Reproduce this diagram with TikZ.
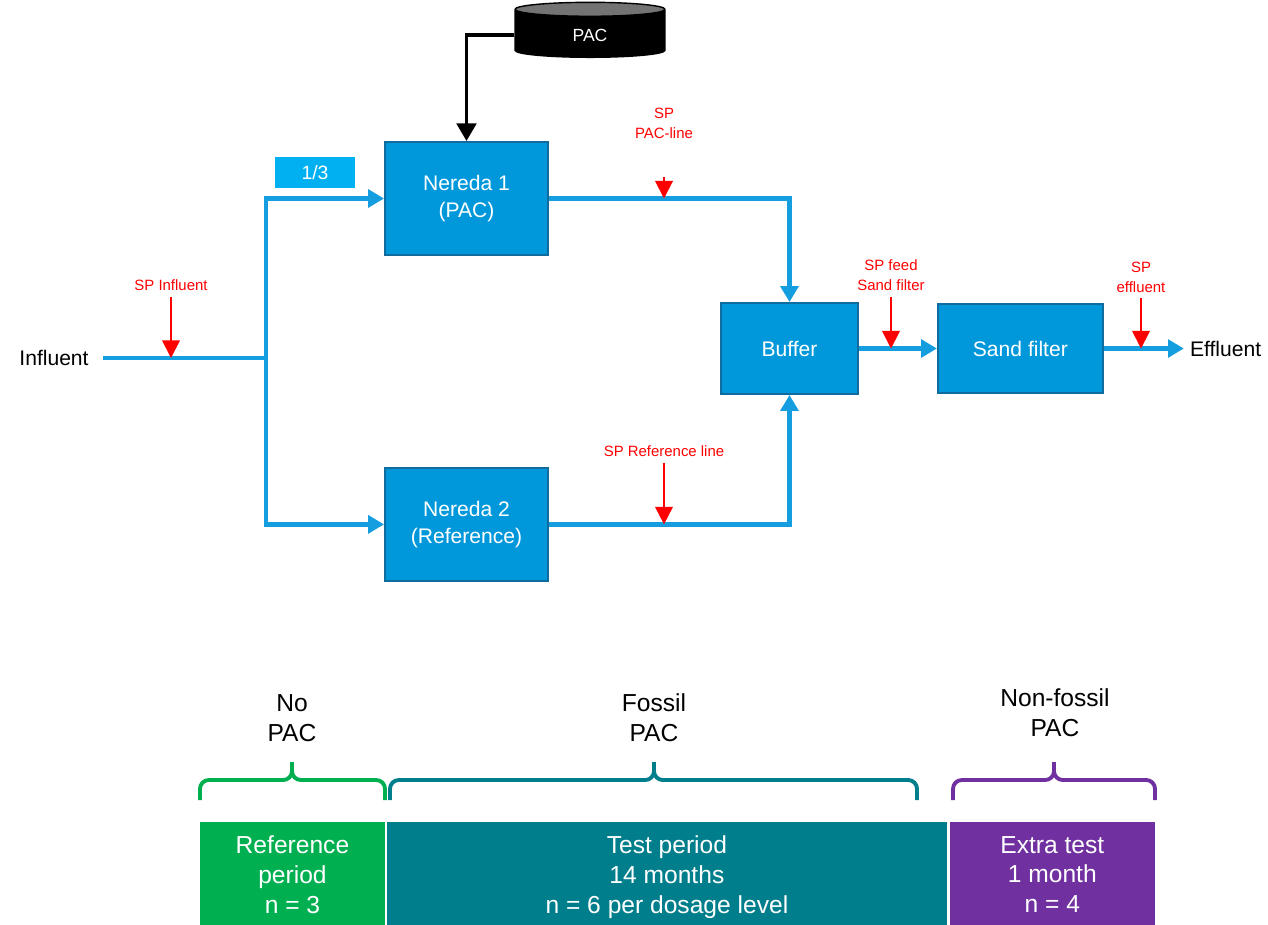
\documentclass[tikz,border=0pt]{standalone}
\usepackage{fontspec}
\setmainfont{Liberation Sans}
\usetikzlibrary{positioning, shapes.geometric, arrows.meta}

\definecolor{boxblue}{RGB}{0,152,219}
\definecolor{boxedge}{RGB}{16,108,158}
\definecolor{flowblue}{RGB}{20,158,224}
\definecolor{splitcyan}{RGB}{0,176,240}
\definecolor{refgreen}{RGB}{0,176,80}
\definecolor{testteal}{RGB}{0,126,140}
\definecolor{extrapurple}{RGB}{112,48,160}

\begin{document}
\begin{tikzpicture}[
    x = 0.02cm, y = -0.02cm,
    node distance = 5mm and 10mm,
    unit/.style = {rectangle, draw=boxedge, line width=1.1pt, fill=boxblue, text=white, align=center, font=\fontsize{12}{15.3}\selectfont},
    reactor/.style = {unit, minimum width=3.26cm, minimum height=2.26cm},
    flow/.style = {draw=flowblue, line width=2.6pt, -{Triangle[length=9pt, width=10pt]}},
    dose/.style = {draw=black, line width=2.2pt, -{Triangle[length=10pt, width=11pt]}},
    sp/.style = {draw=red, line width=1.1pt, -{Triangle[length=10pt, width=10pt]}},
    splabel/.style = {text=red, align=center, font=\fontsize{8.5}{11.3}\selectfont},
    bracket/.style = {line width=2.2pt, rounded corners=5pt},
    phase/.style = {align=center, font=\fontsize{14}{17}\selectfont},
    period/.style = {rectangle, text=white, align=center, font=\fontsize{14}{17}\selectfont, minimum height=2.1cm, text depth=0pt, inner sep=0pt, outer sep=0pt}
]
\useasboundingbox (0,0) rectangle (1268,924);

% Treatment line
    \node[reactor] (n1) at (466.5,198.5) {Nereda 1\\(PAC)};
    \node[reactor, below=4.22cm of n1] (n2) {Nereda 2\\(Reference)};
    \node[unit, minimum width=2.74cm, minimum height=1.82cm] (buf) at (789.5,348.5) {Buffer};
    \node[unit, right=1.56cm of buf, minimum width=3.3cm, minimum height=1.78cm] (sf) {Sand filter};
    \node[font=\fontsize{12}{14}\selectfont] (infl) at (54,358) {Influent};
    \node[font=\fontsize{12}{14}\selectfont, right=1.6cm of sf] (eff) {Effluent};
    \node[rectangle, fill=splitcyan, text=white, font=\fontsize{11}{13}\selectfont, minimum width=1.6cm, minimum height=0.62cm] (frac) at (315,172.5) {1/3};
    \node[cylinder, shape border rotate=90, aspect=0.3, draw=black, line width=0.8pt,
          cylinder uses custom fill, cylinder body fill=black, cylinder end fill=black!55,
          text=white, font=\fontsize{10}{12}\selectfont, minimum width=3cm, minimum height=1.1cm] (pac) at (590,35) {PAC};
    \coordinate (split) at (266,358);

% Sampling points
    \node[splabel] (spin) at (171,285) {SP Influent};
    \node[splabel] (spn1) at (664,123) {SP\\PAC-line};
    \node[splabel] (spn2) at (664,451) {SP Reference line};
    \node[splabel] (spsf) at (891,275) {SP feed\\Sand filter};
    \node[splabel] (speff) at (1141,277) {SP\\effluent};

% Flows
    \draw[flow, -] ([xshift=0.16cm]infl.east) -- (split);
    \draw[flow] (split) |- (n1.west);
    \draw[flow] (split) |- (n2.west);
    \draw[flow] (n1.east) -| (buf.north);
    \draw[flow] (n2.east) -| (buf.south);
    \draw[flow] (buf.east) -- (buf.east -| sf.west);
    \draw[flow] (sf.east) -- (eff.west);
    \draw[dose] (pac.west) -| (n1.north);

% Sampling arrows
    \draw[sp] (spin.south) -- (spin |- split);
    \draw[sp] (spn1.south) ++(0,33) -- (spn1 |- n1.east);
    \draw[sp] (spn2.south) -- (spn2 |- n2.east);
    \draw[sp] (spsf.south) -- (spsf |- buf.east);
    \draw[sp] (speff.south) -- (speff |- sf.east);

% Periods
    \node[period, fill=refgreen, minimum width=3.7cm, anchor=north west] (ref) at (200,822) {Reference\\period\\n = 3};
    \node[period, fill=testteal, minimum width=11.2cm, right=0.04cm of ref] (test) {Test period\\14 months\\n = 6 per dosage level};
    \node[period, fill=extrapurple, minimum width=4.1cm, right=0.06cm of test] (extra) {Extra test\\1 month\\n = 4};

    \node[phase] (nopac) at (292,718) {No\\PAC};
    \node[phase] (fossil) at (654,718) {Fossil\\PAC};
    \node[phase] (nonfossil) at (1055,713) {Non-fossil\\PAC};

    \draw[bracket, refgreen] (200,800) |- (292,780) -- (292,762);
    \draw[bracket, refgreen] (385,800) |- (292,780) -- (292,762);
    \draw[bracket, testteal] (390,800) |- (654,780) -- (654,762);
    \draw[bracket, testteal] (917,800) |- (654,780) -- (654,762);
    \draw[bracket, extrapurple] (953,800) |- (1054,780) -- (1054,762);
    \draw[bracket, extrapurple] (1155,800) |- (1054,780) -- (1054,762);
\end{tikzpicture}
\end{document}
